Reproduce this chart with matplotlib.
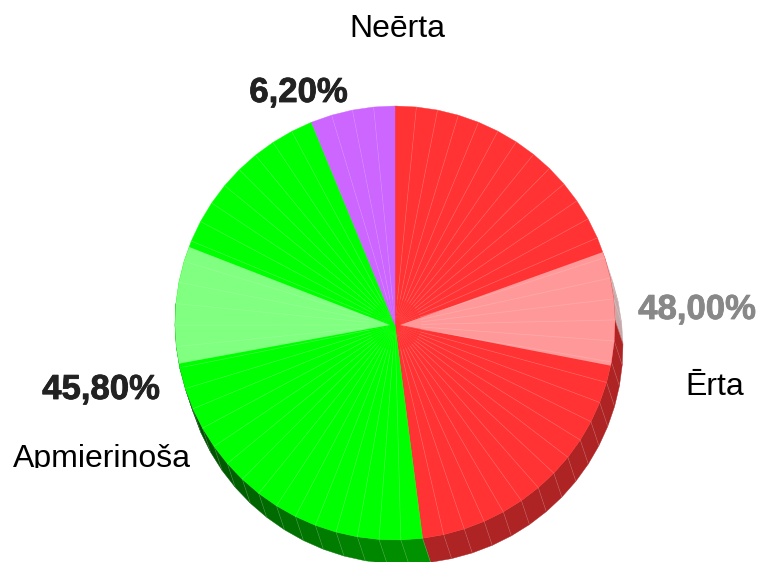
import numpy as np
import matplotlib
matplotlib.use("Agg")
import matplotlib.pyplot as plt
from matplotlib.transforms import Bbox
import matplotlib.patheffects as pe

categories = ["Ērta", "Apmierinoša", "Neērta"]
values = [48.0, 45.8, 6.2]
value_labels = ["48,00%", "45,80%", "6,20%"]
colors = ["#FF3333", "#00FF00", "#CC66FF"]
light_colors = ["#FF9999", "#80FF80", "#CC66FF"]
# highlighted bands, in percent of the full circle, clockwise from the top
highlight_bands = [(19.7, 28.15), (72.0, 80.7), None]

W, H = 761, 562
fig = plt.figure(figsize=(W / 100, H / 100), dpi=100)
ax = fig.add_axes([0, 0, 1, 1])
ax.set_xlim(0, W)
ax.set_ylim(H, 0)
ax.axis("off")

cx, cy, rx, ry = 395.0, 323.0, 220.0, 217.0
apex = np.array([395.0, 325.0])
band_apex_shift = [5.0, -5.0, 0.0]
dx, dy = 8.0, 24.0
STEP = 5.6


def rim(deg):
    a = np.radians(deg)
    return np.array([cx + rx * np.sin(a), cy - ry * np.cos(a)])


def side_color(i, deg):
    if i == 0:
        return "#C8A8A8" if deg < 89 else "#AE2323"
    t = np.clip((deg - 172) / 80.0, 0, 1)
    return (0, (150 - 80 * t) / 255, 0)


starts = np.cumsum([0] + values[:-1]) * 3.6
sweeps = np.array(values) * 3.6

# side wall
for i, (s, w) in enumerate(zip(starts, sweeps)):
    n = max(1, int(round(w / STEP)))
    edges = s + np.arange(n + 1) * w / n
    for a0, a1 in zip(edges[:-1], edges[1:]):
        if a1 < 74 or a0 > 270:
            continue
        p0, p1 = rim(a0), rim(a1)
        ax.fill([p0[0], p1[0], p1[0] + dx, p0[0] + dx],
                [p0[1], p1[1], p1[1] + dy, p0[1] + dy],
                color=side_color(i, 0.5 * (a0 + a1)), lw=0.3, zorder=1)
        ax.plot([p0[0], p0[0] + dx], [p0[1], p0[1] + dy],
                color="white", alpha=0.2, lw=0.5, zorder=1.5)

# top face
for i, (s, w) in enumerate(zip(starts, sweeps)):
    n = max(1, int(round(w / STEP)))
    edges = s + np.arange(n + 1) * w / n
    band = highlight_bands[i]
    for a0, a1 in zip(edges[:-1], edges[1:]):
        p0, p1 = rim(a0), rim(a1)
        ax.fill([apex[0], p0[0], p1[0]], [apex[1], p0[1], p1[1]],
                color=colors[i], lw=0.3, zorder=2)
    if band is not None:
        lo, hi = band[0] * 3.6, band[1] * 3.6
        # walk the faceted rim so the lighter band keeps the same outline
        pts = []
        for a in [lo] + [e for e in edges if lo < e < hi] + [hi]:
            k = min(int((a - s) / (w / n)), n - 1)
            f = (a - edges[k]) / (edges[k + 1] - edges[k])
            pts.append(rim(edges[k]) * (1 - f) + rim(edges[k + 1]) * f)
        pts = np.array(pts)
        ax.fill(np.r_[apex[0] + band_apex_shift[i], pts[:, 0]], np.r_[apex[1], pts[:, 1]],
                color=light_colors[i], lw=0, zorder=2.5)
    for a in edges[1:-1]:
        p = rim(a)
        q = apex + 0.12 * (p - apex)
        ax.plot([q[0], p[0]], [q[1], p[1]], color="white",
                alpha=0.17, lw=0.5, zorder=3)

# labels
name_pos = [(715, 395), (102, 467), (397.5, 37)]
value_pos = [(697, 319), (101, 399), (298.5, 102)]
value_colors = ["#888888", "#222222", "#222222"]
font = ["Liberation Sans", "DejaVu Sans"]
for name, (x, y) in zip(categories, name_pos):
    t = ax.text(x, y, name, ha="center", va="baseline", fontsize=23,
                family=font, color="black", zorder=5)
    if name == "Apmierinoša":
        t.set_clip_on(True)
        t.set_clip_box(Bbox([[0, H - 468], [W, H]]))
for lab, (x, y), c in zip(value_labels, value_pos, value_colors):
    ax.text(x, y, lab, ha="center", va="baseline", fontsize=25, weight="bold",
            family=font, color=c, zorder=5,
            path_effects=[pe.withStroke(linewidth=0.6, foreground=c)])

fig.savefig("out.png", dpi=100)
